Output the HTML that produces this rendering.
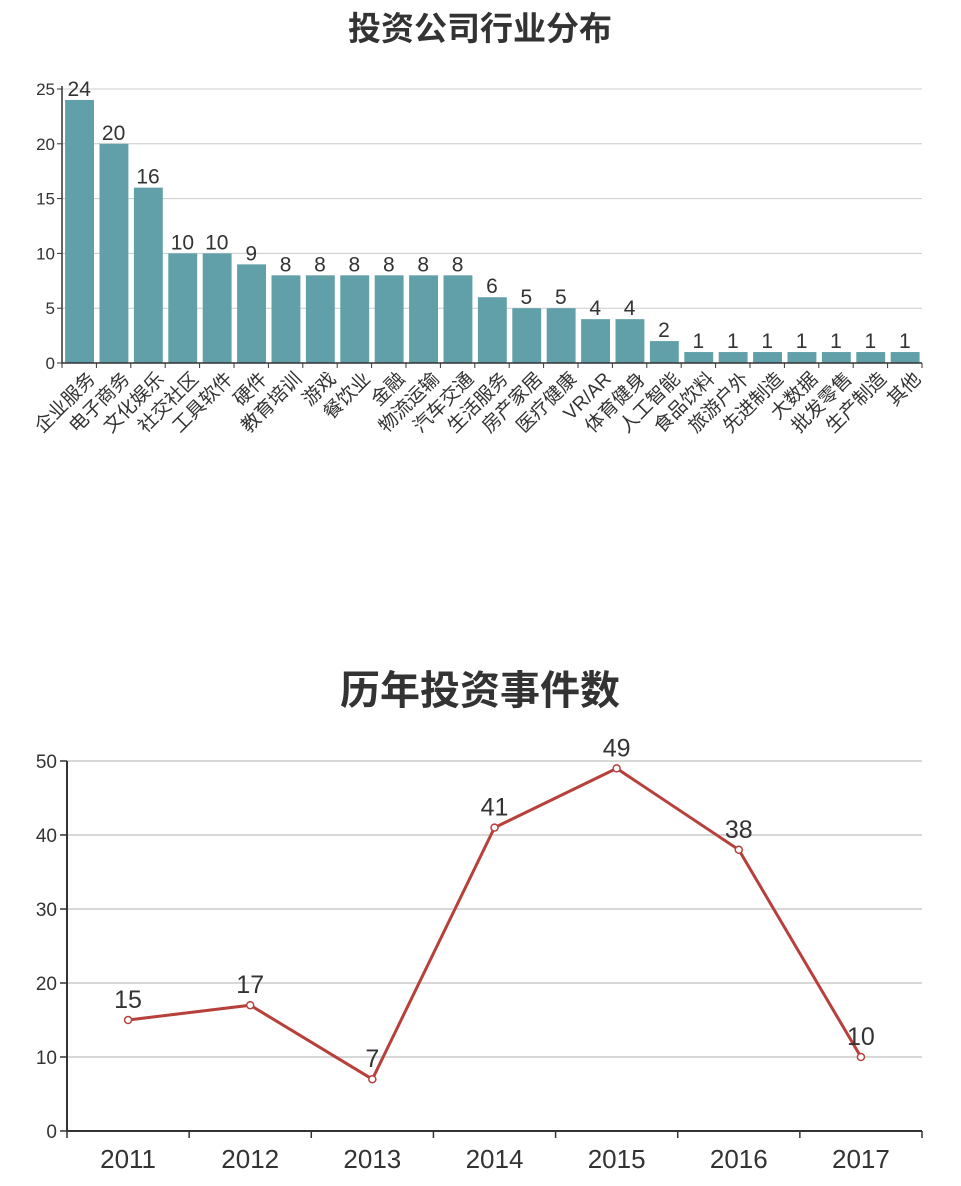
<!DOCTYPE html>
<html><head><meta charset="utf-8"><style>
body{margin:0;background:#fff;width:961px;height:1181px;overflow:hidden}
svg{font-family:"Liberation Sans","Noto Sans CJK SC",sans-serif}
</style></head><body>
<svg id="s" width="961" height="1181">
<text x="480" y="40" text-anchor="middle" font-size="33" font-weight="bold" fill="#333">投资公司行业分布</text>
<text x="480" y="704" text-anchor="middle" font-size="40" font-weight="bold" fill="#333">历年投资事件数</text>
</svg>
<script>
const barCategories=["企业服务","电子商务","文化娱乐","社交社区","工具软件","硬件","教育培训","游戏","餐饮业","金融","物流运输","汽车交通","生活服务","房产家居","医疗健康","VR/AR","体育健身","人工智能","食品饮料","旅游户外","先进制造","大数据","批发零售","生产制造","其他"];
const barValues=[24,20,16,10,10,9,8,8,8,8,8,8,6,5,5,4,4,2,1,1,1,1,1,1,1];
const barTicks=[0,5,10,15,20,25];
const lineYears=["2011","2012","2013","2014","2015","2016","2017"];
const lineValues=[15,17,7,41,49,38,10];
const lineTicks=[0,10,20,30,40,50];

const s=document.getElementById('s');const NS='http://www.w3.org/2000/svg';
function mk(t,a,txt){const e=document.createElementNS(NS,t);for(const k in a)e.setAttribute(k,a[k]);if(txt!==undefined)e.textContent=txt;s.appendChild(e);return e;}

const bx0=62,bx1=922,by0=363,by1=89,bmax=25;
const bY=v=>by0-(v/bmax)*(by0-by1);
const band=(bx1-bx0)/barCategories.length;
const bX=i=>bx0+i*band;
barTicks.forEach(t=>{
 if(t>0){const g=mk('line',{x1:bx0,x2:bx1,y1:bY(t),y2:bY(t),stroke:'#ccc','stroke-width':1});
 
 }
 const l=mk('text',{x:bx0-7,y:bY(t)+6,'text-anchor':'end','font-size':17,fill:'#333'},t);
 
 
 mk('line',{x1:bx0-5,x2:bx0,y1:bY(t),y2:bY(t),stroke:'#333'});
});
barCategories.forEach((c,i)=>{
 const x=bX(i)+band*0.09,w=band*0.84,v=barValues[i];
 const r=mk('rect',{x:x,y:bY(v),width:w,height:by0-bY(v),fill:'#61a0a8'});
 
 
 const vl=mk('text',{x:bX(i)+band/2,y:bY(v)-4,'text-anchor':'middle','font-size':21,fill:'#333'},v);
 
 
 const cx=bX(i)+band/2+8,cy=by0+8;
 const cl=mk('text',{x:cx,y:cy,'text-anchor':'end','font-size':19,fill:'#333',transform:`rotate(-45 ${cx} ${cy})`,'dominant-baseline':'hanging'},c);
 
 
});
for(let i=0;i<=barCategories.length;i++)mk('line',{x1:bX(i),x2:bX(i),y1:by0,y2:by0+5,stroke:'#333'});
mk('line',{x1:bx0,x2:bx0,y1:by1-3,y2:by0,stroke:'#333','stroke-width':1.5});
mk('line',{x1:bx0,x2:bx1,y1:by0,y2:by0,stroke:'#333','stroke-width':1.5});

const lx0=67,lx1=922,ly0=1131,ly1=761,lmax=50;
const lY=v=>ly0-(v/lmax)*(ly0-ly1);
const lband=(lx1-lx0)/lineYears.length;
const lX=i=>lx0+(i+0.5)*lband;
lineTicks.forEach(t=>{
 if(t>0){const g=mk('line',{x1:lx0,x2:lx1,y1:lY(t),y2:lY(t),stroke:'#ccc','stroke-width':1.5});
 
 }
 const l=mk('text',{x:lx0-10,y:lY(t)+7,'text-anchor':'end','font-size':19,fill:'#333'},t);
 
 
 mk('line',{x1:lx0-7,x2:lx0,y1:lY(t),y2:lY(t),stroke:'#333','stroke-width':1.5});
});
for(let i=0;i<=lineYears.length;i++)mk('line',{x1:lx0+i*lband,x2:lx0+i*lband,y1:ly0,y2:ly0+7,stroke:'#333','stroke-width':1.5});
mk('line',{x1:lx0,x2:lx0,y1:ly1,y2:ly0,stroke:'#333','stroke-width':2});
mk('line',{x1:lx0,x2:lx1,y1:ly0,y2:ly0,stroke:'#333','stroke-width':2});
const path=mk('polyline',{points:lineValues.map((v,i)=>lX(i)+','+lY(v)).join(' '),fill:'none',stroke:'#b8403b','stroke-width':3});


lineYears.forEach((y,i)=>{
 const p=mk('circle',{cx:lX(i),cy:lY(lineValues[i]),r:3.5,fill:'#fff',stroke:'#b8403b','stroke-width':1.5});
 
 
 const vl=mk('text',{x:lX(i),y:lY(lineValues[i])-12,'text-anchor':'middle','font-size':25,fill:'#333'},lineValues[i]);
 
 
 const xl=mk('text',{x:lX(i),y:ly0+37,'text-anchor':'middle','font-size':26,fill:'#333'},y);
 
 
});
</script>
</body></html>
